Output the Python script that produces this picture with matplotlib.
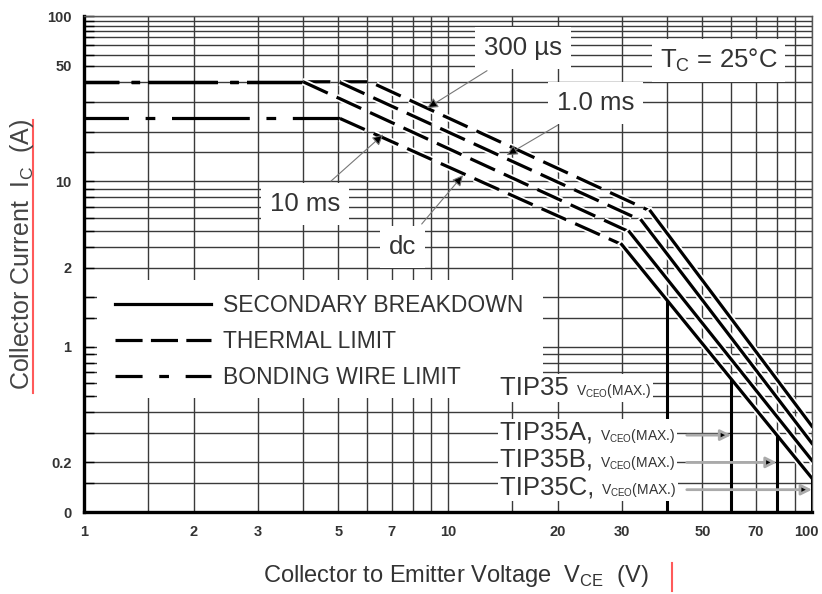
import numpy as np
import matplotlib.pyplot as plt
import matplotlib.patheffects as pe
import matplotlib.transforms as mtransforms
from matplotlib import font_manager
from matplotlib.lines import Line2D
from matplotlib.patches import Rectangle
from matplotlib.offsetbox import TextArea, HPacker, AnnotationBbox

# --- data (volts, amps) ---
curve_names = ['300 µs', '1.0 ms', '10 ms', 'dc']
bond_i = [40, 40, 40, 24]            # bonding wire limit
bond_end_v = [4.0, 4.0, 4.0, 5.05]   # where bonding wire limit ends
flat_end_v = [6.1, 5.0, 4.0, 5.05]   # where thermal limit starts to fall
knee_v = [36, 34, 31.5, 30]          # thermal -> secondary breakdown
knee_i = [6.6, 5.8, 4.95, 4.15]
end_v = 100
end_i = [0.33, 0.26, 0.205, 0.16]

vceo_names = ['TIP35', 'TIP35A,', 'TIP35B,', 'TIP35C,']
vceo_v = [40, 60, 80, 100]

x_ticks = [1, 2, 3, 5, 7, 10, 20, 30, 50, 70, 100]
x_minor = [1.5, 4, 6, 8, 9, 15, 40, 60, 80, 90]
y_ticks = [0.1, 0.2, 1, 3, 10, 50, 100]
y_tick_labels = ['0', '0.2', '1', '2', '10', '50', '100']
y_minor = [0.15, 0.3, 0.4, 0.5, 0.6, 0.7, 0.8, 0.9, 1.5, 2, 4, 5, 6, 7, 8, 9,
           15, 20, 30, 40, 58, 67, 75, 81, 87, 93]

# --- fonts ---
names = {f.name for f in font_manager.fontManager.ttflist}
NARROW = 'Liberation Sans Narrow' if 'Liberation Sans Narrow' in names else 'Liberation Sans'
plt.rcParams['font.family'] = ['Liberation Sans', 'DejaVu Sans']
plt.rcParams['mathtext.fontset'] = 'custom'
plt.rcParams['mathtext.rm'] = 'Liberation Sans'
plt.rcParams['lines.scale_dashes'] = False

fig = plt.figure(figsize=(8.22, 5.94), dpi=100)
ax = fig.add_axes([84 / 822, 82 / 594, 728 / 822, 496 / 594])
ax.set_xscale('log')
ax.set_yscale('log')
ax.set_xlim(1, 100)
ax.set_ylim(0.1, 100)

ax.set_xticks(x_ticks)
ax.set_xticklabels([str(v) for v in x_ticks])
ax.set_xticks(x_minor, minor=True)
ax.set_xticklabels([], minor=True)
ax.set_yticks(y_ticks)
ax.set_yticklabels(y_tick_labels)
ax.set_yticks(y_minor, minor=True)
ax.set_yticklabels([], minor=True)

ax.set_axisbelow(True)
ax.grid(True, which='both', color='#3a3a3a', lw=1.0)
ax.tick_params(axis='x', which='both', length=0, pad=9)
ax.tick_params(axis='y', which='both', direction='in', length=7, width=1, pad=9)
for lab in ax.get_xticklabels() + ax.get_yticklabels():
    lab.set_fontfamily(NARROW)
    lab.set_fontweight('bold')
    lab.set_fontsize(10.5)
    lab.set_color('#333333')
# keep the "100" label inside the picture
last = ax.get_xticklabels()[-1]
last.set_transform(last.get_transform()
                   + mtransforms.ScaledTranslation(-4 / 72, 0, fig.dpi_scale_trans))

for side in ['left', 'bottom']:
    ax.spines[side].set_linewidth(2.4)
    ax.spines[side].set_color('black')
for side in ['top', 'right']:
    ax.spines[side].set_linewidth(1.0)
    ax.spines[side].set_color('#555555')

# blank area behind the legend
ax.add_patch(Rectangle((0.018, 0.23), 0.612, 0.238, transform=ax.transAxes,
                       facecolor='white', edgecolor='none', zorder=1.5))

lw = 2.3
halo = [pe.Stroke(linewidth=lw + 2.5, foreground='white'), pe.Normal()]
therm_dash = (0, (19.5, 7))

for k in range(len(curve_names)):
    if bond_i[k] == 40:
        bond_style = (25, (50, 9, 6, 6))
    else:
        bond_style = (24, (56, 12, 7, 12))
    ax.plot([1, bond_end_v[k]], [bond_i[k], bond_i[k]], color='black', lw=lw,
            ls=bond_style, dash_capstyle='butt', zorder=3)
    ax.plot([bond_end_v[k], flat_end_v[k], knee_v[k]],
            [bond_i[k], bond_i[k], knee_i[k]], color='black', lw=lw,
            ls=therm_dash, dash_capstyle='butt', path_effects=halo, zorder=3)
    ax.plot([knee_v[k], end_v], [knee_i[k], end_i[k]], color='black', lw=lw,
            path_effects=halo, zorder=3)

# VCEO(max) limits drawn down from the dc curve
dc_v = np.log10([knee_v[3], end_v])
dc_i = np.log10([knee_i[3], end_i[3]])
for v in vceo_v:
    top = 10 ** np.interp(np.log10(v), dc_v, dc_i)
    ax.vlines(v, 0.1, top, color='black', lw=2.2, zorder=3)

# legend
handles = [Line2D([], [], color='black', lw=lw),
           Line2D([], [], color='black', lw=lw, ls=(0, (19.5, 6))),
           Line2D([], [], color='black', lw=lw, ls=(0, (19.5, 12, 7, 12)))]
leg = ax.legend(handles, ['SECONDARY BREAKDOWN', 'THERMAL LIMIT', 'BONDING WIRE LIMIT'],
                loc='upper left', bbox_to_anchor=(0.042, 0.44), frameon=False,
                borderpad=0, borderaxespad=0, handlelength=4.2, handletextpad=0.55,
                labelspacing=0.58, prop={'family': NARROW, 'size': 16.5})
for t in leg.get_texts():
    t.set_color('#333333')

box = dict(boxstyle='square,pad=0.35', fc='white', ec='none')
arrow = dict(arrowstyle='-|>', ec='#777777', fc='black', lw=0.8,
             mutation_scale=16, shrinkA=2, shrinkB=0)
txt = dict(textcoords='axes fraction', ha='center', va='center', fontsize=18.5,
           family=NARROW, color='#333333', bbox=box, zorder=5)

ax.annotate('300 µs', xy=(8.76, 27.7), xytext=(0.603, 0.935), arrowprops=arrow, **txt)
ax.annotate('1.0 ms', xy=(14.5, 14.4), xytext=(0.703, 0.825), arrowprops=arrow, **txt)
ax.annotate('10 ms', xy=(6.64, 19.2), xytext=(0.304, 0.621), arrowprops=arrow, **txt)
ax.annotate('dc', xy=(11.0, 10.9), xytext=(0.437, 0.534), arrowprops=arrow, **txt)
ax.text(0.872, 0.911, r'T$_{\mathregular{C}}$ = 25°C', transform=ax.transAxes,
        ha='center', va='center', fontsize=18.5, family=NARROW, color='#333333',
        bbox=dict(boxstyle='square,pad=0.3', fc='white', ec='none'), zorder=5)

# VCEO labels
label_y = [0.25, 0.16, 0.105, 0.05]
for k, name in enumerate(vceo_names):
    big = TextArea(name + ' ', textprops=dict(fontsize=18.5, family=NARROW, color='#333333'))
    small = TextArea(r'V$_{\mathregular{CEO}}$(MAX.)',
                     textprops=dict(fontsize=10, family=NARROW, color='#333333'))
    pack = HPacker(children=[big, small], align='baseline', pad=0, sep=0)
    ab = AnnotationBbox(pack, (0.571, label_y[k]), xycoords='axes fraction',
                        box_alignment=(0, 0.5), frameon=True, pad=0.15,
                        bboxprops=dict(fc='white', ec='none'), zorder=5)
    ax.add_artist(ab)
    if k > 0:
        ax.annotate('', xy=(vceo_v[k], label_y[k] - 0.005), xycoords=('data', 'axes fraction'),
                    xytext=(0.828, label_y[k] - 0.005), textcoords='axes fraction',
                    arrowprops=dict(arrowstyle='-|>', ec='#aaaaaa', fc='black', lw=2.0,
                                    mutation_scale=16, shrinkA=0, shrinkB=0), zorder=6)

fig.text(0.027, 0.571, r'Collector Current  I$_{\mathregular{C}}$  (A)', rotation=90,
         ha='center', va='center', fontsize=18, color='#444444')
fig.text(0.555, 0.030, r'Collector to Emitter Voltage  V$_{\mathregular{CE}}$  (V)',
         ha='center', va='center', fontsize=17, color='#333333')

# red marker lines present in the reference image
fig.add_artist(Line2D([33 / 822, 33 / 822], [1 - 120 / 594, 1 - 393 / 594],
                      color='#ff5a5a', lw=1.5))
fig.add_artist(Line2D([672 / 822, 672 / 822], [1 - 563 / 594, 1 - 591 / 594],
                      color='#ff5a5a', lw=1.5))

fig.savefig('out.png', dpi=100)
plt.close(fig)
